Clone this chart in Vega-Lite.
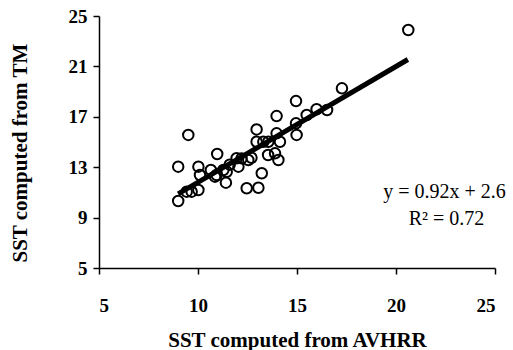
{
  "$schema": "https://vega.github.io/schema/vega-lite/v6.json",
  "width": 396,
  "height": 252,
  "autosize": {"type": "none"},
  "padding": {"left": 99, "top": 16, "right": 18, "bottom": 82},
  "background": "white",
  "config": {
    "view": {"stroke": null},
    "font": "Liberation Serif",
    "axis": {
      "grid": false,
      "domainColor": "#000000",
      "domainWidth": 1.5,
      "tickColor": "#000000",
      "tickWidth": 1.5,
      "tickSize": 6,
      "labelFont": "Liberation Serif",
      "labelFontWeight": "bold",
      "labelFontSize": 19,
      "labelColor": "#000000",
      "titleFont": "Liberation Serif",
      "titleFontWeight": "bold",
      "titleFontSize": 21,
      "titleColor": "#000000"
    }
  },
  "datasets": {
    "points": [
      {"avhrr": 9.51, "tm": 15.56},
      {"avhrr": 9.0, "tm": 13.04},
      {"avhrr": 10.02, "tm": 13.04},
      {"avhrr": 10.1, "tm": 12.38},
      {"avhrr": 9.0, "tm": 10.32},
      {"avhrr": 9.43, "tm": 11.06},
      {"avhrr": 9.68, "tm": 11.06},
      {"avhrr": 10.02, "tm": 11.19},
      {"avhrr": 10.65, "tm": 12.78},
      {"avhrr": 10.97, "tm": 14.05},
      {"avhrr": 10.94, "tm": 12.38},
      {"avhrr": 10.86, "tm": 12.25},
      {"avhrr": 11.28, "tm": 12.78},
      {"avhrr": 11.41, "tm": 11.77},
      {"avhrr": 11.45, "tm": 12.64},
      {"avhrr": 11.6, "tm": 13.2},
      {"avhrr": 11.95, "tm": 13.71},
      {"avhrr": 12.04, "tm": 13.04},
      {"avhrr": 12.2, "tm": 13.7},
      {"avhrr": 12.46, "tm": 11.33},
      {"avhrr": 13.05, "tm": 11.37},
      {"avhrr": 12.54, "tm": 13.57},
      {"avhrr": 12.7, "tm": 13.75},
      {"avhrr": 12.96, "tm": 16.0},
      {"avhrr": 12.96, "tm": 15.02},
      {"avhrr": 13.22, "tm": 12.52},
      {"avhrr": 13.3, "tm": 15.02},
      {"avhrr": 13.54, "tm": 13.97},
      {"avhrr": 13.55, "tm": 15.02},
      {"avhrr": 13.97, "tm": 17.06},
      {"avhrr": 13.97, "tm": 15.69},
      {"avhrr": 13.89, "tm": 14.1},
      {"avhrr": 14.06, "tm": 13.57},
      {"avhrr": 14.14, "tm": 15.02},
      {"avhrr": 14.95, "tm": 18.25},
      {"avhrr": 14.95, "tm": 16.48},
      {"avhrr": 14.98, "tm": 15.56},
      {"avhrr": 15.49, "tm": 17.14},
      {"avhrr": 15.99, "tm": 17.6},
      {"avhrr": 16.52, "tm": 17.54},
      {"avhrr": 17.27, "tm": 19.26},
      {"avhrr": 20.62, "tm": 23.89}
    ],
    "fit": [
      {"avhrr": 9.0, "tm": 10.88},
      {"avhrr": 20.6, "tm": 21.55}
    ],
    "labels": [
      {"avhrr": 22.45, "tm": 11.0, "label": "y = 0.92x + 2.6"},
      {"avhrr": 22.55, "tm": 8.85, "label": "R² = 0.72"}
    ]
  },
  "encoding": {
    "x": {
      "field": "avhrr",
      "type": "quantitative",
      "scale": {"domain": [5, 25], "nice": false, "zero": false},
      "axis": {
        "title": "SST computed from AVHRR",
        "values": [5, 10, 15, 20, 25],
        "labelPadding": 22,
        "titlePadding": 14
      }
    },
    "y": {
      "field": "tm",
      "type": "quantitative",
      "scale": {"domain": [5, 25], "nice": false, "zero": false},
      "axis": {
        "title": "SST computed from TM",
        "values": [5, 9, 13, 17, 21, 25],
        "labelPadding": 6,
        "titleAngle": -90,
        "titleAlign": "left",
        "titleBaseline": "middle",
        "titleX": -79,
        "titleY": 246
      }
    }
  },
  "layer": [
    {
      "data": {"name": "points"},
      "mark": {"type": "point", "shape": "circle", "filled": false, "stroke": "black", "strokeWidth": 2, "size": 110, "opacity": 1}
    },
    {
      "data": {"name": "fit"},
      "mark": {"type": "line", "color": "black", "strokeWidth": 5}
    },
    {
      "data": {"name": "labels"},
      "mark": {"type": "text", "font": "Liberation Serif", "fontSize": 20, "color": "black", "align": "center", "baseline": "middle"},
      "encoding": {"text": {"field": "label"}}
    }
  ]
}
